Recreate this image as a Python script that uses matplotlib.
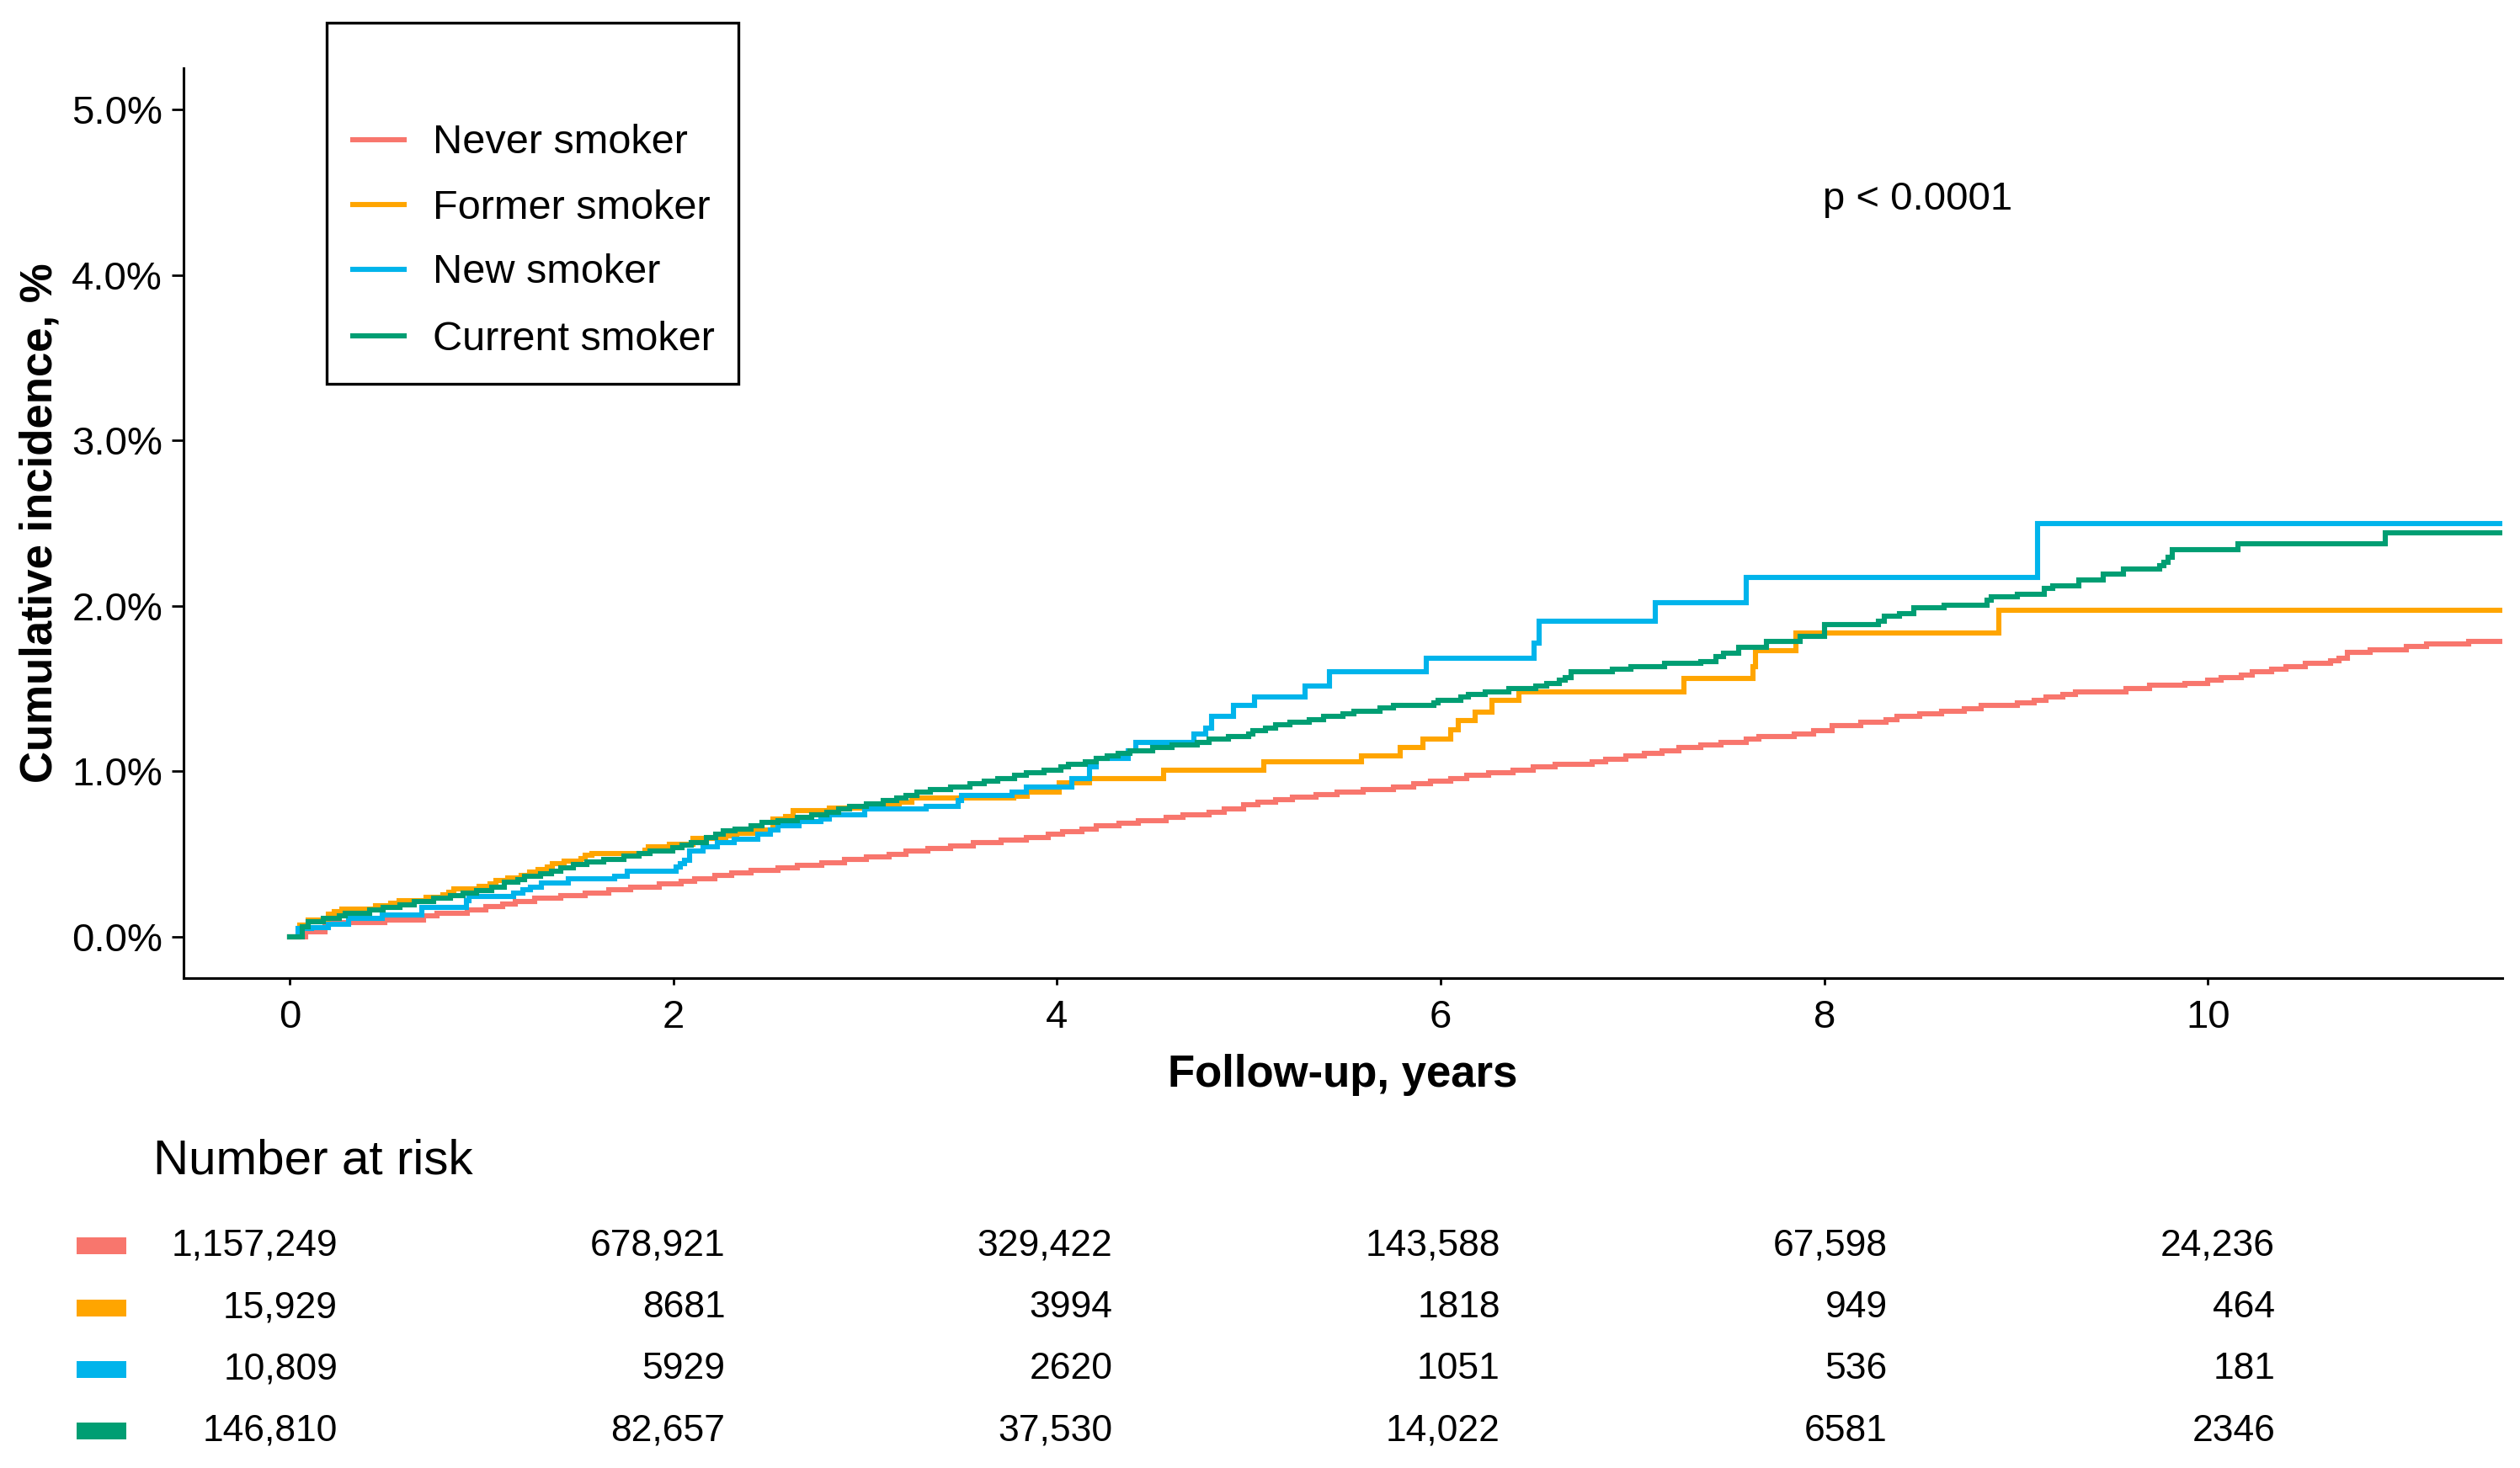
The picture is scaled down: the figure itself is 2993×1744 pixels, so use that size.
import matplotlib
matplotlib.use("Agg")
import matplotlib.pyplot as plt
from matplotlib.patches import Rectangle
from matplotlib.lines import Line2D

plt.rcParams['font.family'] = ['Liberation Sans', 'DejaVu Sans']

# ---------------- data ----------------
groups = ["Never smoker", "Former smoker", "New smoker", "Current smoker"]
colors = ["#F8766D", "#FFA500", "#00B4EB", "#009E73"]

never_t = [0, 0.081, 0.185, 0.493, 0.695, 0.767, 0.927, 1.022, 1.110, 1.177, 1.277, 1.413, 1.541, 1.661,
           1.776, 1.924, 2.040, 2.111, 2.216, 2.304, 2.406, 2.543, 2.647, 2.774, 2.894, 3.006, 3.126, 3.213,
           3.328, 3.445, 3.565, 3.708, 3.839, 3.955, 4.027, 4.131, 4.203, 4.322, 4.426, 4.570, 4.658, 4.793,
           4.870, 4.974, 5.045, 5.141, 5.229, 5.349, 5.460, 5.596, 5.756, 5.859, 5.947, 6.051, 6.135, 6.250,
           6.378, 6.482, 6.598, 6.789, 6.860, 6.965, 7.064, 7.155, 7.243, 7.356, 7.460, 7.592, 7.659, 7.843,
           7.943, 8.042, 8.191, 8.321, 8.381, 8.497, 8.612, 8.728, 8.816, 9.008, 9.095, 9.155, 9.244, 9.311,
           9.574, 9.697, 9.880, 9.997, 10.070, 10.173, 10.231, 10.334, 10.407, 10.509, 10.641, 10.685, 10.729,
           10.846, 11.036, 11.139, 11.358]
never_y = [0, 0.032, 0.085, 0.102, 0.127, 0.144, 0.164, 0.181, 0.198, 0.215, 0.232, 0.249, 0.266, 0.283,
           0.301, 0.318, 0.334, 0.352, 0.369, 0.385, 0.401, 0.415, 0.432, 0.449, 0.466, 0.483, 0.500, 0.517,
           0.534, 0.550, 0.567, 0.584, 0.601, 0.618, 0.635, 0.652, 0.669, 0.686, 0.703, 0.720, 0.737, 0.754,
           0.771, 0.796, 0.813, 0.827, 0.842, 0.859, 0.872, 0.889, 0.906, 0.923, 0.940, 0.957, 0.974, 0.991,
           1.008, 1.025, 1.042, 1.059, 1.075, 1.093, 1.109, 1.126, 1.143, 1.160, 1.177, 1.194, 1.211, 1.228,
           1.245, 1.275, 1.296, 1.313, 1.330, 1.347, 1.363, 1.380, 1.397, 1.414, 1.431, 1.448, 1.465, 1.482,
           1.499, 1.519, 1.533, 1.550, 1.567, 1.584, 1.601, 1.617, 1.634, 1.651, 1.668, 1.685, 1.719,
           1.736, 1.753, 1.770, 1.787]

former_t = [0, 0.052, 0.097, 0.200, 0.232, 0.272, 0.448, 0.525, 0.568, 0.711, 0.799, 0.828, 0.855, 0.987,
            1.046, 1.073, 1.134, 1.206, 1.249, 1.294, 1.342, 1.370, 1.429, 1.517, 1.541, 1.573, 1.852, 1.868,
            1.980, 2.100, 2.275, 2.331, 2.419, 2.519, 2.583, 2.623, 2.814, 3.101, 3.178, 3.245, 3.772, 3.844,
            4.011, 4.168, 4.554, 5.077, 5.588, 5.787, 5.907, 6.051, 6.091, 6.181, 6.266, 6.410, 7.270, 7.627,
            7.643, 7.851, 8.912]
former_y = [0, 0.068, 0.102, 0.136, 0.152, 0.169, 0.186, 0.203, 0.220, 0.237, 0.254, 0.271, 0.288, 0.305,
            0.322, 0.339, 0.356, 0.373, 0.390, 0.407, 0.423, 0.440, 0.457, 0.474, 0.491, 0.503, 0.525, 0.542,
            0.559, 0.593, 0.610, 0.627, 0.644, 0.711, 0.728, 0.762, 0.779, 0.796, 0.813, 0.838, 0.847, 0.872,
            0.931, 0.957, 1.008, 1.059, 1.092, 1.143, 1.194, 1.253, 1.309, 1.360, 1.431, 1.482, 1.560, 1.635,
            1.728, 1.838, 1.973]

new_t = [0, 0.041, 0.113, 0.200, 0.307, 0.480, 0.687, 0.919, 0.935, 1.166, 1.214, 1.254, 1.310, 1.453,
         1.693, 1.761, 2.012, 2.036, 2.060, 2.083, 2.155, 2.227, 2.315, 2.439, 2.507, 2.543, 2.655, 2.767,
         2.814, 2.998, 3.317, 3.485, 3.500, 3.764, 3.839, 4.075, 4.171, 4.203, 4.370, 4.410, 4.713, 4.777,
         4.806, 4.918, 5.029, 5.293, 5.420, 5.923, 6.489, 6.513, 7.120, 7.595, 9.111]
new_y = [0, 0.051, 0.056, 0.076, 0.113, 0.130, 0.175, 0.220, 0.246, 0.266, 0.283, 0.300, 0.327, 0.351,
         0.368, 0.398, 0.423, 0.440, 0.462, 0.517, 0.542, 0.567, 0.588, 0.618, 0.643, 0.669, 0.694, 0.711,
         0.737, 0.771, 0.788, 0.822, 0.855, 0.872, 0.906, 0.957, 1.025, 1.076, 1.126, 1.177, 1.228, 1.262,
         1.330, 1.397, 1.448, 1.516, 1.601, 1.682, 1.773, 1.906, 2.021, 2.171, 2.495]

current_t = [0, 0.065, 0.097, 0.173, 0.256, 0.288, 0.416, 0.488, 0.576, 0.647,
             0.751, 0.839, 0.903, 0.975, 1.054, 1.118, 1.190, 1.222, 1.306, 1.365,
             1.413, 1.477, 1.549, 1.637, 1.741, 1.820, 1.876, 1.996, 2.043, 2.091,
             2.171, 2.219, 2.259, 2.323, 2.403, 2.463, 2.543, 2.647, 2.719, 2.798,
             2.862, 2.918, 3.006, 3.094, 3.165, 3.213, 3.269, 3.341, 3.445, 3.548,
             3.620, 3.692, 3.780, 3.839, 3.932, 4.019, 4.059, 4.147, 4.203, 4.262,
             4.317, 4.378, 4.498, 4.601, 4.729, 4.793, 4.894, 4.997, 5.023, 5.085,
             5.141, 5.213, 5.317, 5.389, 5.492, 5.548, 5.684, 5.756, 5.963, 5.987,
             6.106, 6.146, 6.234, 6.354, 6.497, 6.553, 6.617, 6.649, 6.681, 6.896,
             6.992, 7.168, 7.356, 7.436, 7.476, 7.555, 7.699, 7.874, 8.002, 8.281,
             8.313, 8.393, 8.465, 8.625, 8.848, 8.872, 9.008, 9.146, 9.191, 9.327,
             9.454, 9.558, 9.748, 9.770, 9.792, 9.814, 10.158, 10.926]
current_y = [0, 0.059, 0.093, 0.113, 0.127, 0.144, 0.161, 0.178, 0.195, 0.212,
             0.232, 0.249, 0.263, 0.279, 0.300, 0.330, 0.347, 0.364, 0.381, 0.398,
             0.415, 0.435, 0.452, 0.469, 0.486, 0.503, 0.517, 0.537, 0.554, 0.571,
             0.601, 0.618, 0.639, 0.652, 0.672, 0.689, 0.703, 0.720, 0.737, 0.754,
             0.771, 0.788, 0.805, 0.822, 0.838, 0.855, 0.872, 0.889, 0.906, 0.923,
             0.940, 0.957, 0.974, 0.991, 1.008, 1.025, 1.042, 1.059, 1.076, 1.093,
             1.110, 1.126, 1.143, 1.160, 1.177, 1.194, 1.211, 1.228, 1.245, 1.262,
             1.279, 1.296, 1.313, 1.330, 1.347, 1.364, 1.381, 1.398, 1.415, 1.431,
             1.448, 1.465, 1.482, 1.499, 1.516, 1.533, 1.550, 1.567, 1.601, 1.618,
             1.635, 1.652, 1.665, 1.694, 1.716, 1.750, 1.784, 1.818, 1.885, 1.906,
             1.936, 1.953, 1.987, 2.004, 2.033, 2.055, 2.072, 2.105, 2.122, 2.156,
             2.190, 2.224, 2.244, 2.261, 2.292, 2.342, 2.376, 2.442]

follow_end = 11.6

risk_times = [0, 2, 4, 6, 8, 10]
risk_never = [1157249, 678921, 329422, 143588, 67598, 24236]
risk_former = [15929, 8681, 3994, 1818, 949, 464]
risk_new = [10809, 5929, 2620, 1051, 536, 181]
risk_current = [146810, 82657, 37530, 14022, 6581, 2346]

x_ticks = [0, 2, 4, 6, 8, 10]
y_ticks = [0, 1, 2, 3, 4, 5]
p_text = "p < 0.0001"

# ---------------- figure ----------------
W, H = 2993, 1744
DPI = 200
fig = plt.figure(figsize=(W / DPI, H / DPI), dpi=DPI)


def fx(x):
    return x / W


def fy(y):
    return 1 - y / H


ax_l, ax_r, ax_t, ax_b = 218, 2972, 81, 1162
ax = fig.add_axes([fx(ax_l), fy(ax_b), (ax_r - ax_l) / W, (ax_b - ax_t) / H])

series = [(never_t, never_y), (former_t, former_y), (new_t, new_y), (current_t, current_y)]
for (t, y), c in zip(series, colors):
    tt = list(t) + [follow_end]
    yy = list(y) + [y[-1]]
    ax.plot(tt, yy, drawstyle='steps-post', color=c, lw=2.2, solid_joinstyle='miter')

ax.set_xlim(-0.554, 11.535)
ax.set_ylim(-0.25, 5.25)
ax.set_xticks(x_ticks)
ax.set_xticklabels([str(v) for v in x_ticks])
ax.set_yticks(y_ticks)
ax.set_yticklabels([f"{v:.1f}%" for v in y_ticks])
for s in ['top', 'right']:
    ax.spines[s].set_visible(False)
for s in ['left', 'bottom']:
    ax.spines[s].set_linewidth(1.1)
    ax.spines[s].set_color('black')
ax.tick_params(axis='x', length=3, width=1.0, pad=6, labelsize=17, colors='black')
ax.tick_params(axis='y', length=5, width=1.0, pad=4, labelsize=17, colors='black')

fig.text(fx(1595), fy(1277), "Follow-up, years", ha='center', va='center',
         fontsize=19, fontweight='bold')
fig.text(fx(48), fy(621), "Cumulative incidence, %", ha='center', va='center',
         rotation=90, fontsize=19, fontweight='bold')

fig.text(fx(2278), fy(237), p_text, ha='center', va='center', fontsize=17)

# legend box (drawn manually)
fig.add_artist(Rectangle((fx(388), fy(456)), (877 - 388) / W, (456 - 27) / H,
                         transform=fig.transFigure, fill=False, edgecolor='black', lw=1.2))
leg_rows = [166, 243, 320, 399]
for g, c, yr in zip(groups, colors, leg_rows):
    fig.add_artist(Line2D([fx(419), fx(480)], [fy(yr), fy(yr)], transform=fig.transFigure,
                          color=c, lw=2.2))
    fig.text(fx(514), fy(yr + 4), g, ha='left', va='center', fontsize=17.5)

# ---------------- risk table ----------------
tab = fig.add_axes([0, 0, 1, 444 / H])
tab.set_xlim(-1.743, 11.264)
tab.set_ylim(3.60, -2.46)
tab.axis('off')
tab.text(-0.95, -1.378, "Number at risk", ha='left', va='center', fontsize=21)


def fmt(n):
    return f"{n:,}" if n >= 10000 else str(n)


risk_rows = [risk_never, risk_former, risk_new, risk_current]
for i, (row, c) in enumerate(zip(risk_rows, colors)):
    tab.add_patch(Rectangle((-1.348, i - 0.136), 0.2565, 0.273, facecolor=c, edgecolor='none'))
    for t, n in zip(risk_times, row):
        tab.text(t, i, fmt(n), ha='right', va='center', fontsize=16)

fig.savefig("out.png", dpi=DPI)
